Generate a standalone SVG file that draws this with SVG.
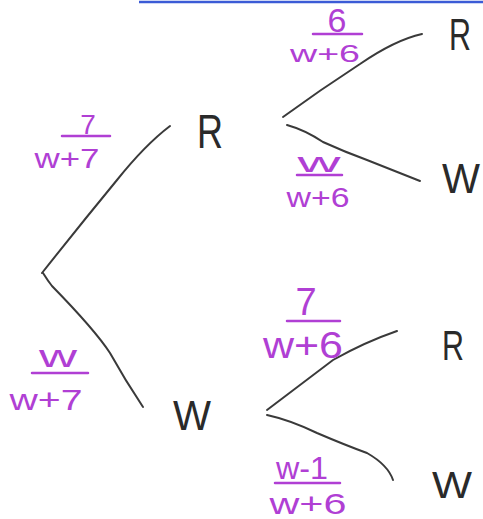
<svg xmlns="http://www.w3.org/2000/svg" width="483" height="519" viewBox="0 0 483 519">
<style>
.br{fill:none;stroke:#3a3a3a;stroke-width:2;stroke-linecap:round}
.node{font-family:"Liberation Sans",sans-serif;fill:#2a2a2a;font-weight:normal;text-anchor:middle}
.lab{font-family:"Liberation Sans",sans-serif;fill:#b03fd4;text-anchor:middle}
.bar{stroke:#b03fd4;stroke-width:2.5;stroke-linecap:round}
</style>
<rect width="483" height="519" fill="#ffffff"/>
<line x1="139" y1="2" x2="483" y2="2" stroke="#3b5bd6" stroke-width="2.5"/>
<g id="connectors">
<path class="br" d="M42,273 Q80,225 117,180 Q145,145 170,126"/>
<path class="br" d="M43,273 Q48,281 52,286 Q95,330 110,353 Q125,380 143,407"/>
<path class="br" d="M283,117 Q320,90 360,64 Q395,40 422,34"/>
<path class="br" d="M287,125 Q305,130 323,142 Q345,152 367,160 Q400,173 420,181"/>
<path class="br" d="M267,410 Q300,385 333,360 Q365,342 397,331"/>
<path class="br" d="M267,415 Q290,420 317,433 Q345,445 367,453 Q388,465 393,480"/>
</g>
<g id="n-R1"><text class="node" x="210" y="148" font-size="48" textLength="26" lengthAdjust="spacingAndGlyphs">R</text></g>
<g id="n-W1"><text class="node" x="192" y="430" font-size="42" textLength="38" lengthAdjust="spacingAndGlyphs">W</text></g>
<g id="n-RR"><text class="node" x="460" y="50" font-size="44" textLength="22" lengthAdjust="spacingAndGlyphs">R</text></g>
<g id="n-RW"><text class="node" x="461" y="193" font-size="42" textLength="38" lengthAdjust="spacingAndGlyphs">W</text></g>
<g id="n-WR"><text class="node" x="453" y="360" font-size="42" textLength="22" lengthAdjust="spacingAndGlyphs">R</text></g>
<g id="n-WW"><text class="node" x="452" y="498" font-size="36" textLength="40" lengthAdjust="spacingAndGlyphs">W</text></g>
<g id="p-R">
<text class="lab" x="88" y="134" font-size="28">7</text>
<line class="bar" x1="62" y1="136" x2="110" y2="136"/>
<text class="lab" x="67" y="168" font-size="27" textLength="65" lengthAdjust="spacingAndGlyphs">w+7</text>
</g>
<g id="p-W">
<text class="lab" x="58" y="367" font-size="32" textLength="38" lengthAdjust="spacingAndGlyphs">w</text>
<line class="bar" x1="32" y1="373" x2="88" y2="373"/>
<text class="lab" x="46" y="410" font-size="30" textLength="73" lengthAdjust="spacingAndGlyphs">w+7</text>
</g>
<g id="p-RR">
<text class="lab" x="337" y="32" font-size="34">6</text>
<line class="bar" x1="313" y1="34" x2="362" y2="34"/>
<text class="lab" x="325" y="62" font-size="24" textLength="70" lengthAdjust="spacingAndGlyphs">w+6</text>
</g>
<g id="p-RW">
<text class="lab" x="319" y="172" font-size="28" textLength="43" lengthAdjust="spacingAndGlyphs">w</text>
<line class="bar" x1="297" y1="175" x2="342" y2="175"/>
<text class="lab" x="318" y="207" font-size="28" textLength="63" lengthAdjust="spacingAndGlyphs">w+6</text>
</g>
<g id="p-WR">
<text class="lab" x="306" y="315" font-size="38">7</text>
<line class="bar" x1="287" y1="321" x2="340" y2="321"/>
<text class="lab" x="303" y="358" font-size="36" textLength="80" lengthAdjust="spacingAndGlyphs">w+6</text>
</g>
<g id="p-WW">
<text class="lab" x="302" y="479" font-size="32" textLength="52" lengthAdjust="spacingAndGlyphs">w-1</text>
<line class="bar" x1="275" y1="483" x2="340" y2="483"/>
<text class="lab" x="308" y="514" font-size="30" textLength="77" lengthAdjust="spacingAndGlyphs">w+6</text>
</g>
</svg>
